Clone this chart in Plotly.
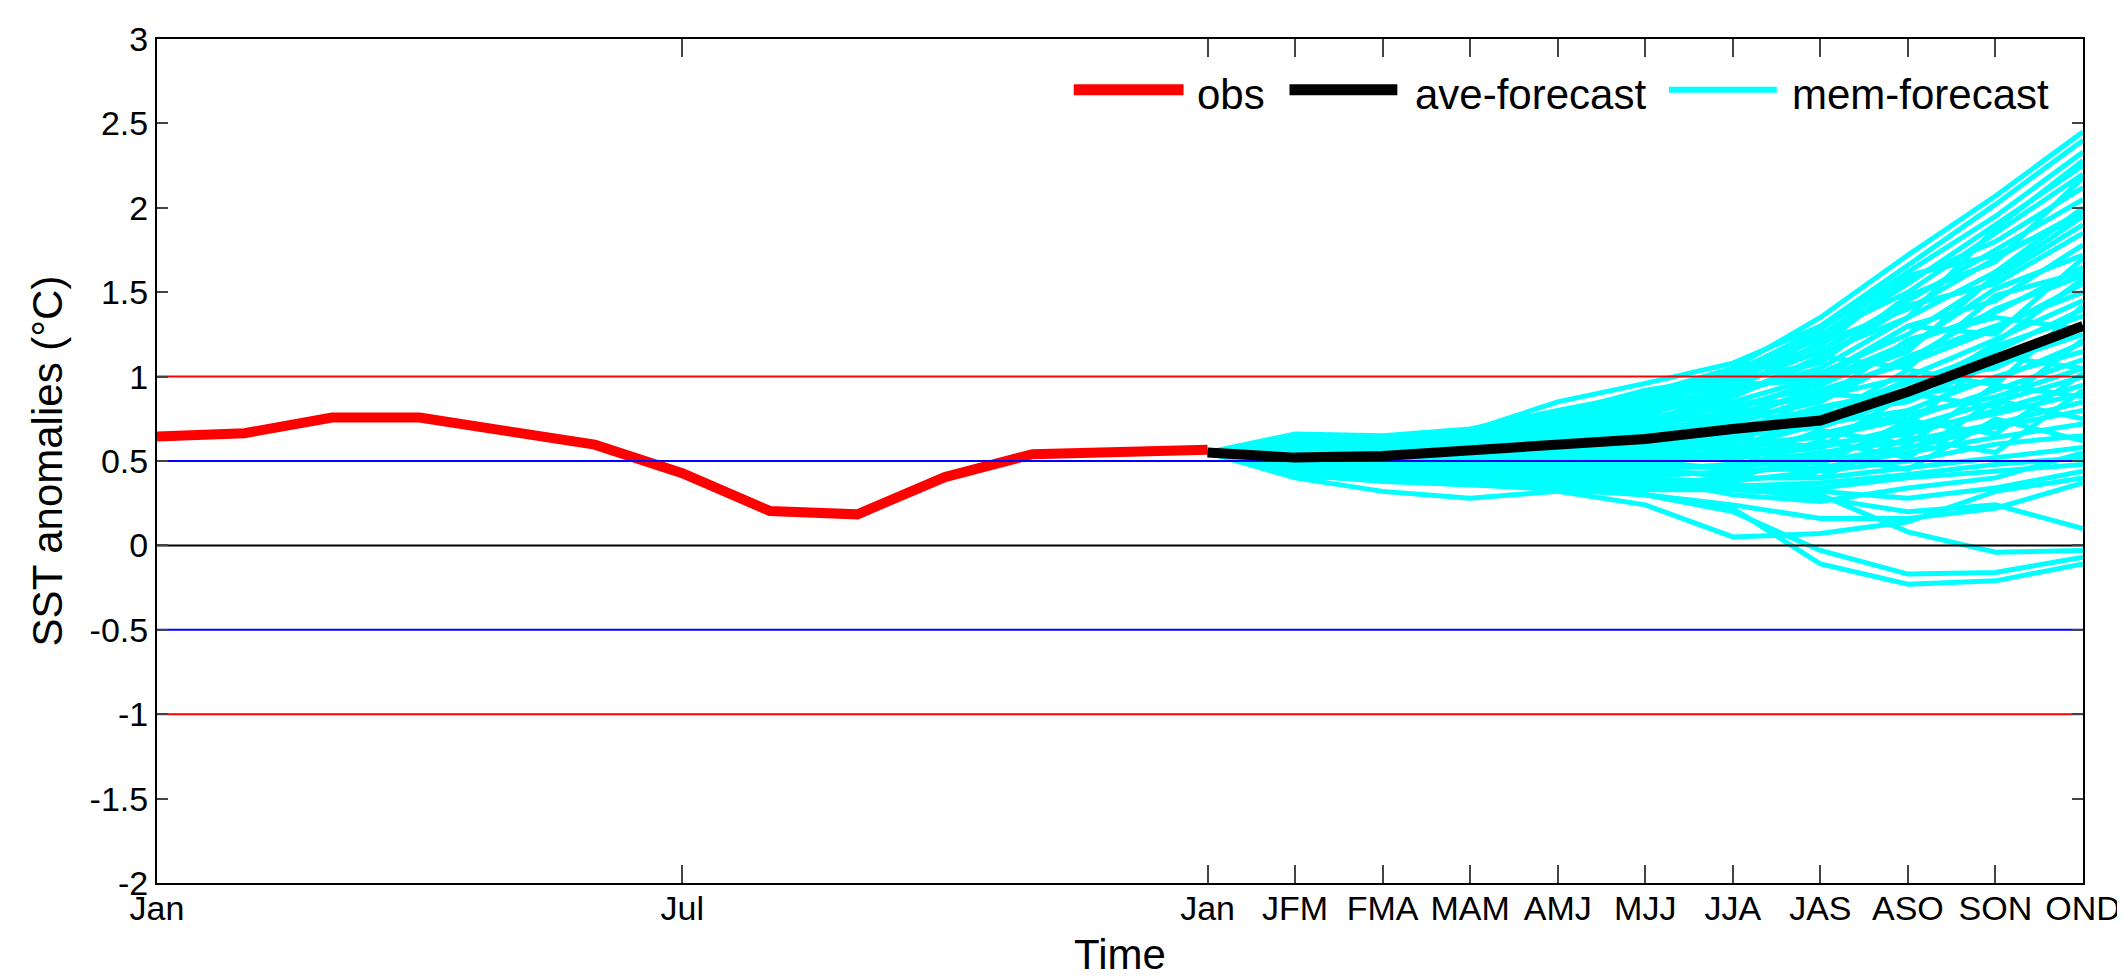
import plotly.graph_objects as go

# ---------------- data ----------------
obs_months = [0, 1, 2, 3, 4, 5, 6, 7, 8, 9, 10, 11, 12]
obs = [0.645, 0.665, 0.757, 0.757, 0.677, 0.597, 0.428, 0.204, 0.184, 0.405, 0.54, 0.553, 0.567]

fc_months = [12, 13, 14, 15, 16, 17, 18, 19, 20, 21, 22]
ave_forecast = [0.55, 0.52, 0.53, 0.56, 0.60, 0.63, 0.69, 0.74, 0.91, 1.11, 1.30]

mem_01 = [0.55, 0.66, 0.65, 0.69, 0.80, 0.90, 1.05, 1.35, 1.72, 2.07, 2.45]
mem_02 = [0.55, 0.63, 0.64, 0.68, 0.85, 0.96, 1.08, 1.30, 1.66, 2.02, 2.40]
mem_03 = [0.55, 0.61, 0.62, 0.66, 0.76, 0.88, 1.02, 1.28, 1.62, 1.95, 2.33]
mem_04 = [0.55, 0.64, 0.63, 0.65, 0.74, 0.86, 1.04, 1.22, 1.55, 1.90, 2.25]
mem_05 = [0.55, 0.58, 0.60, 0.64, 0.72, 0.84, 0.99, 1.25, 1.50, 1.85, 2.20]
mem_06 = [0.55, 0.62, 0.61, 0.67, 0.78, 0.92, 1.00, 1.18, 1.58, 1.80, 2.12]
mem_07 = [0.55, 0.59, 0.58, 0.62, 0.70, 0.80, 0.95, 1.15, 1.45, 1.75, 2.05]
mem_08 = [0.55, 0.57, 0.60, 0.60, 0.68, 0.84, 0.92, 1.20, 1.40, 1.70, 1.98]
mem_09 = [0.55, 0.61, 0.63, 0.66, 0.74, 0.78, 0.90, 1.05, 1.35, 1.62, 2.00]
mem_10 = [0.55, 0.56, 0.57, 0.63, 0.66, 0.74, 0.88, 1.10, 1.42, 1.55, 1.85]
mem_11 = [0.55, 0.60, 0.59, 0.61, 0.71, 0.79, 0.93, 1.02, 1.25, 1.58, 1.90]
mem_12 = [0.55, 0.58, 0.56, 0.60, 0.64, 0.72, 0.85, 1.00, 1.30, 1.45, 1.78]
mem_13 = [0.55, 0.62, 0.60, 0.64, 0.69, 0.76, 0.82, 0.95, 1.18, 1.52, 1.72]
mem_14 = [0.55, 0.54, 0.55, 0.58, 0.63, 0.70, 0.80, 0.98, 1.20, 1.38, 1.65]
mem_15 = [0.55, 0.57, 0.58, 0.62, 0.67, 0.73, 0.78, 0.90, 1.10, 1.40, 1.60]
mem_16 = [0.55, 0.53, 0.54, 0.57, 0.62, 0.68, 0.76, 0.92, 1.08, 1.28, 1.55]
mem_17 = [0.55, 0.59, 0.57, 0.59, 0.65, 0.66, 0.74, 0.85, 1.12, 1.30, 1.50]
mem_18 = [0.55, 0.56, 0.53, 0.56, 0.60, 0.64, 0.72, 0.88, 1.00, 1.22, 1.45]
mem_19 = [0.55, 0.52, 0.55, 0.58, 0.61, 0.67, 0.70, 0.80, 0.96, 1.15, 1.40]
mem_20 = [0.55, 0.55, 0.52, 0.55, 0.59, 0.62, 0.68, 0.82, 0.92, 1.18, 1.36]
mem_21 = [0.55, 0.51, 0.50, 0.54, 0.57, 0.60, 0.65, 0.75, 0.98, 1.05, 1.30]
mem_22 = [0.55, 0.53, 0.51, 0.52, 0.56, 0.58, 0.62, 0.78, 0.85, 1.08, 1.25]
mem_23 = [0.55, 0.50, 0.49, 0.53, 0.55, 0.56, 0.66, 0.70, 0.88, 0.98, 1.20]
mem_24 = [0.55, 0.52, 0.48, 0.50, 0.53, 0.58, 0.58, 0.72, 0.80, 1.00, 1.15]
mem_25 = [0.55, 0.49, 0.47, 0.49, 0.52, 0.54, 0.60, 0.64, 0.75, 0.92, 1.10]
mem_26 = [0.55, 0.50, 0.46, 0.47, 0.50, 0.52, 0.56, 0.66, 0.78, 0.88, 1.05]
mem_27 = [0.55, 0.48, 0.45, 0.46, 0.49, 0.50, 0.52, 0.58, 0.70, 0.85, 1.00]
mem_28 = [0.55, 0.47, 0.44, 0.45, 0.47, 0.48, 0.54, 0.60, 0.66, 0.80, 0.95]
mem_29 = [0.55, 0.46, 0.43, 0.44, 0.46, 0.47, 0.46, 0.52, 0.68, 0.78, 0.90]
mem_30 = [0.55, 0.45, 0.42, 0.43, 0.44, 0.45, 0.48, 0.55, 0.62, 0.72, 0.85]
mem_31 = [0.55, 0.47, 0.44, 0.42, 0.42, 0.44, 0.42, 0.50, 0.58, 0.70, 0.80]
mem_32 = [0.55, 0.44, 0.41, 0.41, 0.40, 0.41, 0.44, 0.46, 0.55, 0.64, 0.72]
mem_33 = [0.55, 0.45, 0.42, 0.40, 0.38, 0.39, 0.38, 0.44, 0.50, 0.60, 0.65]
mem_34 = [0.55, 0.43, 0.40, 0.38, 0.37, 0.36, 0.40, 0.40, 0.46, 0.52, 0.58]
mem_35 = [0.55, 0.44, 0.39, 0.37, 0.36, 0.35, 0.35, 0.37, 0.42, 0.48, 0.52]
mem_36 = [0.55, 0.42, 0.38, 0.36, 0.35, 0.33, 0.33, 0.34, 0.40, 0.44, 0.48]
mem_37 = [0.55, 0.40, 0.32, 0.28, 0.32, 0.24, 0.05, 0.07, 0.14, 0.32, 0.40]
mem_38 = [0.55, 0.45, 0.41, 0.38, 0.36, 0.30, 0.20, -0.03, -0.17, -0.16, -0.07]
mem_39 = [0.55, 0.43, 0.40, 0.39, 0.34, 0.30, 0.22, -0.11, -0.23, -0.21, -0.11]
mem_40 = [0.55, 0.46, 0.43, 0.40, 0.38, 0.35, 0.33, 0.30, 0.08, -0.04, -0.03]
mem_41 = [0.55, 0.47, 0.45, 0.42, 0.40, 0.36, 0.34, 0.28, 0.20, 0.24, 0.10]
mem_42 = [0.55, 0.42, 0.38, 0.36, 0.33, 0.30, 0.24, 0.16, 0.16, 0.22, 0.37]
mem_43 = [0.55, 0.48, 0.46, 0.44, 0.42, 0.38, 0.36, 0.32, 0.28, 0.34, 0.44]
mem_44 = [0.55, 0.50, 0.47, 0.45, 0.43, 0.40, 0.30, 0.26, 0.34, 0.40, 0.55]
mem_45 = [0.55, 0.60, 0.58, 0.63, 0.72, 0.82, 0.88, 1.12, 1.05, 1.48, 1.62]
mem_46 = [0.55, 0.57, 0.59, 0.61, 0.66, 0.70, 0.95, 0.98, 1.30, 1.25, 1.70]
mem_47 = [0.55, 0.53, 0.56, 0.60, 0.70, 0.78, 0.72, 0.96, 1.15, 1.60, 1.95]
mem_48 = [0.55, 0.51, 0.53, 0.57, 0.62, 0.71, 0.84, 0.86, 1.22, 1.35, 1.28]
mem_49 = [0.55, 0.49, 0.52, 0.55, 0.64, 0.69, 0.62, 0.90, 0.86, 1.20, 1.58]
mem_50 = [0.55, 0.48, 0.50, 0.54, 0.58, 0.65, 0.78, 0.74, 1.04, 0.95, 1.42]
mem_51 = [0.55, 0.46, 0.48, 0.51, 0.55, 0.61, 0.56, 0.80, 0.72, 1.12, 1.05]
mem_52 = [0.55, 0.50, 0.45, 0.48, 0.54, 0.57, 0.64, 0.58, 0.90, 0.82, 1.22]
mem_53 = [0.55, 0.45, 0.44, 0.47, 0.51, 0.55, 0.50, 0.68, 0.60, 0.95, 0.88]
mem_54 = [0.55, 0.44, 0.43, 0.46, 0.48, 0.53, 0.60, 0.48, 0.74, 0.66, 1.02]
mem_55 = [0.55, 0.43, 0.41, 0.43, 0.45, 0.50, 0.45, 0.62, 0.52, 0.86, 0.75]
mem_56 = [0.55, 0.42, 0.40, 0.42, 0.44, 0.49, 0.55, 0.40, 0.64, 0.55, 0.92]
mem_57 = [0.55, 0.41, 0.39, 0.41, 0.43, 0.46, 0.40, 0.54, 0.45, 0.75, 0.62]
mem_58 = [0.55, 0.58, 0.62, 0.66, 0.76, 0.90, 0.98, 1.08, 1.48, 1.68, 2.18]
mem_59 = [0.55, 0.56, 0.59, 0.64, 0.73, 0.85, 1.01, 1.14, 1.35, 1.88, 2.28]
mem_60 = [0.55, 0.60, 0.61, 0.65, 0.75, 0.86, 0.96, 1.24, 1.60, 1.72, 1.95]

tick_months = [0, 6, 12, 13, 14, 15, 16, 17, 18, 19, 20, 21, 22]
tick_labels = ["Jan", "Jul", "Jan", "JFM", "FMA", "MAM", "AMJ", "MJJ", "JJA", "JAS", "ASO", "SON", "OND"]
y_ticks = [-2, -1.5, -1, -0.5, 0, 0.5, 1, 1.5, 2, 2.5, 3]
y_tick_labels = ["-2", "-1.5", "-1", "-0.5", "0", "0.5", "1", "1.5", "2", "2.5", "3"]

red_levels = [1, -1]
blue_levels = [0.5, -0.5]
zero_level = [0]

members = [mem_01, mem_02, mem_03, mem_04, mem_05, mem_06, mem_07, mem_08, mem_09, mem_10,
           mem_11, mem_12, mem_13, mem_14, mem_15, mem_16, mem_17, mem_18, mem_19, mem_20,
           mem_21, mem_22, mem_23, mem_24, mem_25, mem_26, mem_27, mem_28, mem_29, mem_30,
           mem_31, mem_32, mem_33, mem_34, mem_35, mem_36, mem_37, mem_38, mem_39, mem_40,
           mem_41, mem_42, mem_43, mem_44, mem_45, mem_46, mem_47, mem_48, mem_49, mem_50,
           mem_51, mem_52, mem_53, mem_54, mem_55, mem_56, mem_57, mem_58, mem_59, mem_60]

FONT = "Liberation Sans, Arial, sans-serif"
CYAN = "#00FFFF"

fig = go.Figure()

for m in members:
    fig.add_trace(go.Scatter(x=fc_months, y=m, mode="lines",
                             line=dict(color=CYAN, width=5),
                             name="mem-forecast", showlegend=False,
                             hoverinfo="skip"))

fig.add_trace(go.Scatter(x=obs_months, y=obs, mode="lines",
                         line=dict(color="#FF0000", width=10),
                         name="obs", showlegend=False))

x_span = [tick_months[0], tick_months[-1]]
for lv in red_levels:
    fig.add_trace(go.Scatter(x=x_span, y=[lv, lv], mode="lines",
                             line=dict(color="#FF0000", width=2),
                             showlegend=False, hoverinfo="skip"))
for lv in blue_levels:
    fig.add_trace(go.Scatter(x=x_span, y=[lv, lv], mode="lines",
                             line=dict(color="#0000FF", width=2),
                             showlegend=False, hoverinfo="skip"))
for lv in zero_level:
    fig.add_trace(go.Scatter(x=x_span, y=[lv, lv], mode="lines",
                             line=dict(color="#000000", width=2),
                             showlegend=False, hoverinfo="skip"))

fig.add_trace(go.Scatter(x=fc_months, y=ave_forecast, mode="lines",
                         line=dict(color="#000000", width=10),
                         name="ave-forecast", showlegend=False))

# ---------------- manual legend (decoration) ----------------
legend_items = [
    ("obs", "#FF0000", 11, 0.476, 0.533, 0.539),
    ("ave-forecast", "#000000", 11, 0.588, 0.644, 0.652),
    ("mem-forecast", CYAN, 6, 0.785, 0.841, 0.848),
]
ly = 0.940
for text, col, w, x0, x1, xt in legend_items:
    fig.add_shape(type="line", xref="paper", yref="paper", x0=x0, x1=x1, y0=ly, y1=ly,
                  line=dict(color=col, width=w))
    fig.add_annotation(xref="paper", yref="paper", x=xt, y=ly - 0.006, text=text,
                       showarrow=False, xanchor="left", yanchor="middle",
                       font=dict(family=FONT, size=42, color="#000000"))

fig.update_layout(
    width=2125, height=980,
    margin=dict(l=149, r=45, t=23, b=105),
    plot_bgcolor="white", paper_bgcolor="white",
    font=dict(family=FONT, color="#000000"),
    showlegend=False,
)

fig.update_xaxes(
    range=[x_span[0], x_span[1]],
    tickmode="array", tickvals=tick_months, ticktext=tick_labels,
    tickfont=dict(family=FONT, size=34, color="#000000"),
    ticks="inside", ticklen=18, tickwidth=1.5, tickcolor="#444444",
    ticklabelstandoff=-6,
    showline=True, linecolor="#000000", linewidth=2, mirror="ticks",
    showgrid=False, zeroline=False,
    title=dict(text="Time", font=dict(family=FONT, size=42, color="#000000"), standoff=14),
)
fig.update_yaxes(
    range=[-2, 3],
    tickmode="array", tickvals=y_ticks, ticktext=y_tick_labels,
    tickfont=dict(family=FONT, size=34, color="#000000"),
    ticks="inside", ticklen=11, tickwidth=1.5, tickcolor="#444444",
    showline=True, linecolor="#000000", linewidth=2, mirror="ticks",
    showgrid=False, zeroline=False,
    title=dict(text="SST anomalies (°C)", font=dict(family=FONT, size=42, color="#000000"), standoff=14),
)

fig.write_html("out.html")
